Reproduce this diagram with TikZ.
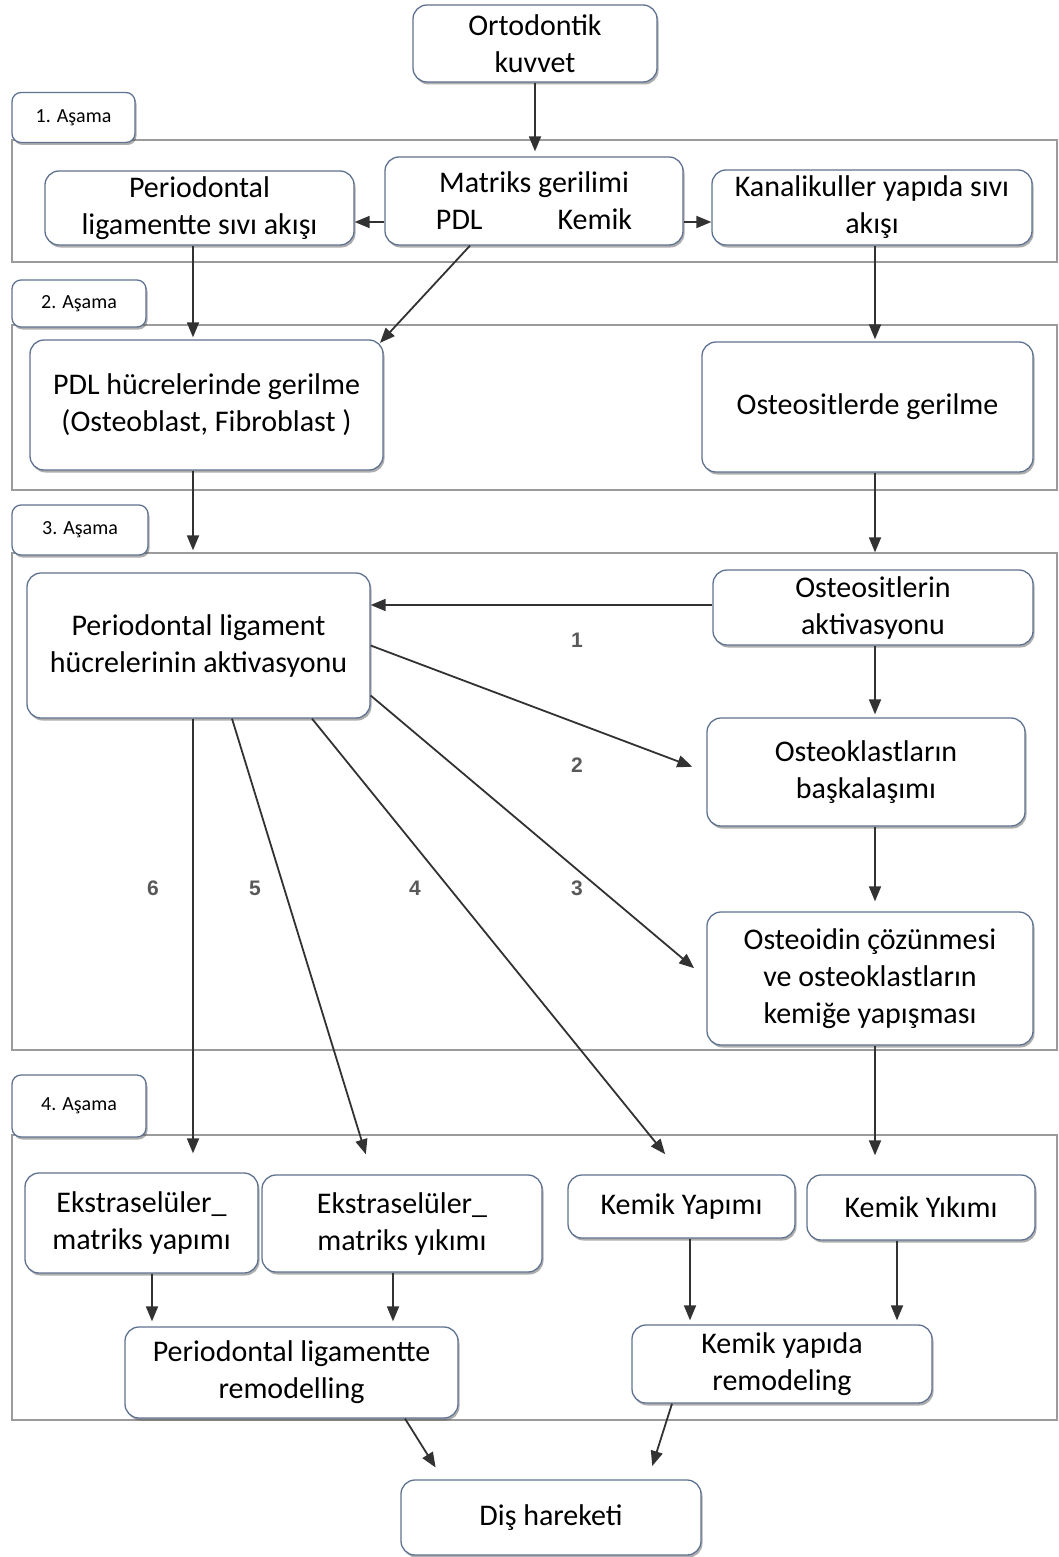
\documentclass[tikz,border=0pt]{standalone}
\usepackage{fontspec}
\setmainfont{Carlito}
\newfontfamily\numfont{Liberation Sans}
\usetikzlibrary{arrows.meta,shadows}
\definecolor{boxc}{RGB}{95,115,145}
\definecolor{stagec}{RGB}{155,155,155}
\definecolor{linec}{RGB}{50,50,50}
\begin{document}
\begin{tikzpicture}[x=1pt,y=-1pt,
  box/.style={draw=boxc, line width=1.3pt, rounded corners=14pt, fill=white, align=center,
    inner sep=2pt, font=\fontsize{30}{37}\selectfont,
    drop shadow={shadow xshift=1.5pt, shadow yshift=-2.5pt, opacity=0.45, fill=black!70}},
  tab/.style={box, rounded corners=9pt, font=\fontsize{20}{24}\selectfont},
  stage/.style={draw=stagec, line width=1.8pt},
  arr/.style={draw=linec, line width=1.8pt, -{Triangle[length=15pt,width=12pt]}},
  num/.style={font=\numfont\bfseries\fontsize{21}{24}\selectfont, text=black!65}]
\useasboundingbox (0,0) rectangle (1059,1557);
% stage frames
\draw[stage] (12,140) rectangle (1057,262);
\draw[stage] (12,325) rectangle (1057,490);
\draw[stage] (12,553) rectangle (1057,1050);
\draw[stage] (12,1135) rectangle (1057,1420);
% stage tabs
\node[tab, minimum width=123pt, minimum height=50pt] (t1) at (73.5,117.5) {1. Aşama};
\node[tab, minimum width=134pt, minimum height=47pt] (t2) at (79,303.5) {2. Aşama};
\node[tab, minimum width=136pt, minimum height=50pt] (t3) at (80,530) {3. Aşama};
\node[tab, minimum width=134pt, minimum height=62pt] (t4) at (79,1106) {4. Aşama};
% nodes
\node[box, minimum width=244pt, minimum height=77pt] (ork) at (535,43.5) {Ortodontik\\kuvvet};
\node[box, minimum width=298pt, minimum height=88pt] (mat) at (534,201) {Matriks gerilimi\\PDL\hspace{75pt}Kemik};
\node[box, minimum width=309pt, minimum height=74pt] (pfl) at (199.5,208) {Periodontal\\ligamentte sıvı akışı};
\node[box, minimum width=320pt, minimum height=75pt] (kan) at (872,207.5) {Kanalikuller yapıda sıvı\\akışı};
\node[box, minimum width=353pt, minimum height=130pt] (pdlh) at (206.5,405) {PDL hücrelerinde gerilme\\(Osteoblast, Fibroblast )};
\node[box, minimum width=331pt, minimum height=130pt] (ostg) at (867.5,407) {Osteositlerde gerilme};
\node[box, minimum width=343pt, minimum height=145pt] (pla) at (198.5,645.5) {Periodontal ligament\\hücrelerinin aktivasyonu};
\node[box, minimum width=320pt, minimum height=75pt] (osta) at (873,607.5) {Osteositlerin\\aktivasyonu};
\node[box, minimum width=318pt, minimum height=108pt] (oskb) at (866,772) {Osteoklastların\\başkalaşımı};
\node[box, minimum width=326pt, minimum height=133pt] (osto) at (870,978.5) {Osteoidin çözünmesi\\ve osteoklastların\\kemiğe yapışması};
\node[box, minimum width=233pt, minimum height=100pt] (eky) at (141.5,1223) {Ekstraselüler\_\\matriks yapımı};
\node[box, minimum width=280pt, minimum height=97pt] (ekyk) at (402,1223.5) {Ekstraselüler\_\\matriks yıkımı};
\node[box, minimum width=227pt, minimum height=63pt] (kya) at (681.5,1206.5) {Kemik Yapımı};
\node[box, minimum width=228pt, minimum height=65pt] (kyk) at (921,1207.5) {Kemik Yıkımı};
\node[box, minimum width=333pt, minimum height=91pt] (plr) at (291.5,1372.5) {Periodontal ligamentte\\remodelling};
\node[box, minimum width=300pt, minimum height=78pt] (kyr) at (782,1364) {Kemik yapıda\\remodeling};
\node[box, minimum width=300pt, minimum height=75pt] (dis) at (551,1517.5) {Diş hareketi};
% number labels
\node[num] (n1) at (577,640) {1};
\node[num] (n2) at (577,765) {2};
\node[num] (n3) at (577,888) {3};
\node[num] (n4) at (415,888) {4};
\node[num] (n5) at (255,888) {5};
\node[num] (n6) at (153,888) {6};
% connectors
\draw[arr, shorten >=5pt] (ork.south) -- (ork.south |- mat.north);
\draw[arr] ([yshift=-21pt]mat.west) -- ([yshift=-21pt]mat.west -| pfl.east);
\draw[arr] ([yshift=-21pt]mat.east) -- ([yshift=-21pt]mat.east -| kan.west);
\draw[arr, shorten >=2pt] ([xshift=-6.5pt]pfl.south) -- ([xshift=-6.5pt]pfl.south |- pdlh.north);
\draw[arr, shorten >=2pt] ([xshift=-64pt]mat.south) -- ([xshift=-5pt,yshift=-5pt]pdlh.north east);
\draw[arr, shorten >=2pt] ([xshift=3pt]kan.south) -- ([xshift=3pt]kan.south |- ostg.north);
\draw[arr, shorten >=22pt] ([xshift=-13.5pt]pdlh.south) -- ([xshift=-13.5pt]pdlh.south |- pla.north);
\draw[arr, shorten >=17pt] ([xshift=7.5pt]ostg.south) -- ([xshift=7.5pt]ostg.south |- osta.north);
\draw[arr] ([yshift=2.5pt]osta.west) -- ([yshift=2.5pt]osta.west -| pla.east);
\draw[arr, shorten >=15pt] (pla.east) -- (oskb.west);
\draw[arr, shorten >=16pt] ([yshift=-50pt]pla.east) -- (osto.west);
\draw[arr, shorten >=26pt] ([xshift=113.5pt]pla.south) -- (kya.north);
\draw[arr, shorten >=21pt] ([xshift=33.5pt]pla.south) -- ([xshift=-30pt]ekyk.north);
\draw[arr, shorten >=19pt] ([xshift=-5.5pt]pla.south) -- ([xshift=-5.5pt]pla.south |- eky.north);
\draw[arr, shorten >=3pt] ([xshift=2pt]osta.south) -- ([xshift=2pt]osta.south |- oskb.north);
\draw[arr, shorten >=10pt] ([xshift=9pt]oskb.south) -- ([xshift=9pt]oskb.south |- osto.north);
\draw[arr, shorten >=19pt] ([xshift=5pt]osto.south) -- ([xshift=5pt]osto.south |- kyk.north);
\draw[arr, shorten >=5pt] ([xshift=10.5pt]eky.south) -- ([xshift=10.5pt]eky.south |- plr.north);
\draw[arr, shorten >=5pt] ([xshift=-9pt]ekyk.south) -- ([xshift=-9pt]ekyk.south |- plr.north);
\draw[arr, shorten >=4pt] ([xshift=8.5pt]kya.south) -- ([xshift=8.5pt]kya.south |- kyr.north);
\draw[arr, shorten >=4pt] ([xshift=-24pt]kyk.south) -- ([xshift=-24pt]kyk.south |- kyr.north);
\draw[arr, shorten >=14pt] ([xshift=113.5pt]plr.south) -- ([xshift=-108pt]dis.north);
\draw[arr, shorten >=14pt] ([xshift=-110pt]kyr.south) -- ([xshift=97pt]dis.north);
\end{tikzpicture}
\end{document}
